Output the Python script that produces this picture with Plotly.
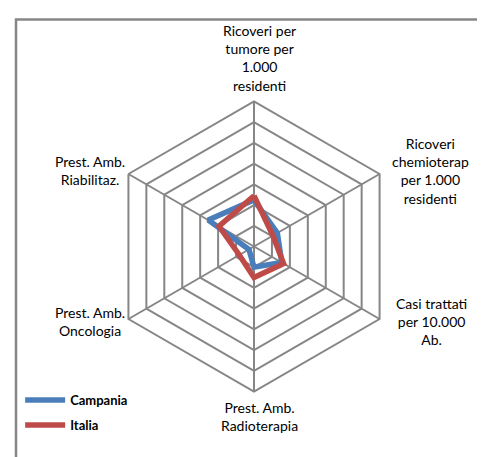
import plotly.graph_objects as go

categories = [
    'Ricoveri per<br>tumore per<br>1.000<br>residenti',
    'Ricoveri<br>chemioterap<br>per 1.000<br>residenti',
    'Casi trattati<br>per 10.000<br>Ab.',
    'Prest. Amb.<br>Radioterapia',
    'Prest. Amb.<br>Oncologia',
    'Prest. Amb.<br>Riabilitaz.',
]

campania = [2.25, 1.3, 1.55, 1.0, 0.28, 2.55]
italia = [2.45, 1.05, 1.65, 1.5, 0.82, 1.95]

W, H = 485, 457
# polar centre / radius in pixels (tuned against the render)
cx, cy, rad = 246, 238.5, 145

# where the category labels sit (pixel centres of each text block)
label_pos = [(251, 50), (422, 163), (423, 313), (251, 408), (82, 313), (82, 162)]

fig = go.Figure()

fig.add_trace(go.Scatterpolar(
    r=campania + campania[:1],
    theta=categories + categories[:1],
    mode='lines',
    name='Campania',
    legendgroup='c',
    line=dict(color='#4A7EBB', width=5.5),
))
fig.add_trace(go.Scatterpolar(
    r=italia + italia[:1],
    theta=categories + categories[:1],
    mode='lines',
    name='Italia',
    legendgroup='i',
    line=dict(color='#BE4B48', width=5.5),
))

annotations = []
for txt, (px, py) in zip(categories, label_pos):
    annotations.append(dict(
        text=txt,
        x=px / W, y=1 - py / H,
        xref='paper', yref='paper',
        xanchor='center', yanchor='middle',
        align='center',
        showarrow=False,
        font=dict(size=14),
    ))

fig.update_layout(
    width=W,
    height=H,
    margin=dict(l=0, r=0, t=0, b=0),
    paper_bgcolor='white',
    plot_bgcolor='white',
    font=dict(family='Lato, sans-serif', size=14, color='black'),
    polar=dict(
        domain=dict(
            x=[(cx - rad) / W, (cx + rad) / W],
            y=[(H - cy - rad) / H, (H - cy + rad) / H],
        ),
        bgcolor='white',
        gridshape='linear',
        radialaxis=dict(
            range=[0, 7],
            dtick=1,
            showticklabels=False,
            ticks='',
            showline=False,
            gridcolor='#868686',
            gridwidth=2,
        ),
        angularaxis=dict(
            direction='clockwise',
            rotation=90,
            ticks='',
            showticklabels=False,
            showline=True,
            linecolor='#868686',
            linewidth=2,
            gridcolor='#868686',
            gridwidth=2,
        ),
    ),
    legend=dict(
        x=0.025,
        y=0.175,
        xanchor='left',
        yanchor='top',
        font=dict(size=13, weight='bold'),
        bgcolor='rgba(0,0,0,0)',
        itemwidth=40,
        tracegroupgap=5,
    ),
    annotations=annotations,
    shapes=[dict(
        type='rect',
        xref='paper', yref='paper',
        x0=8 / W, x1=1.05,
        y0=-0.05, y1=(H - 11.5) / H,
        line=dict(color='#868686', width=2.5),
    )],
)

fig.write_html('out.html')
